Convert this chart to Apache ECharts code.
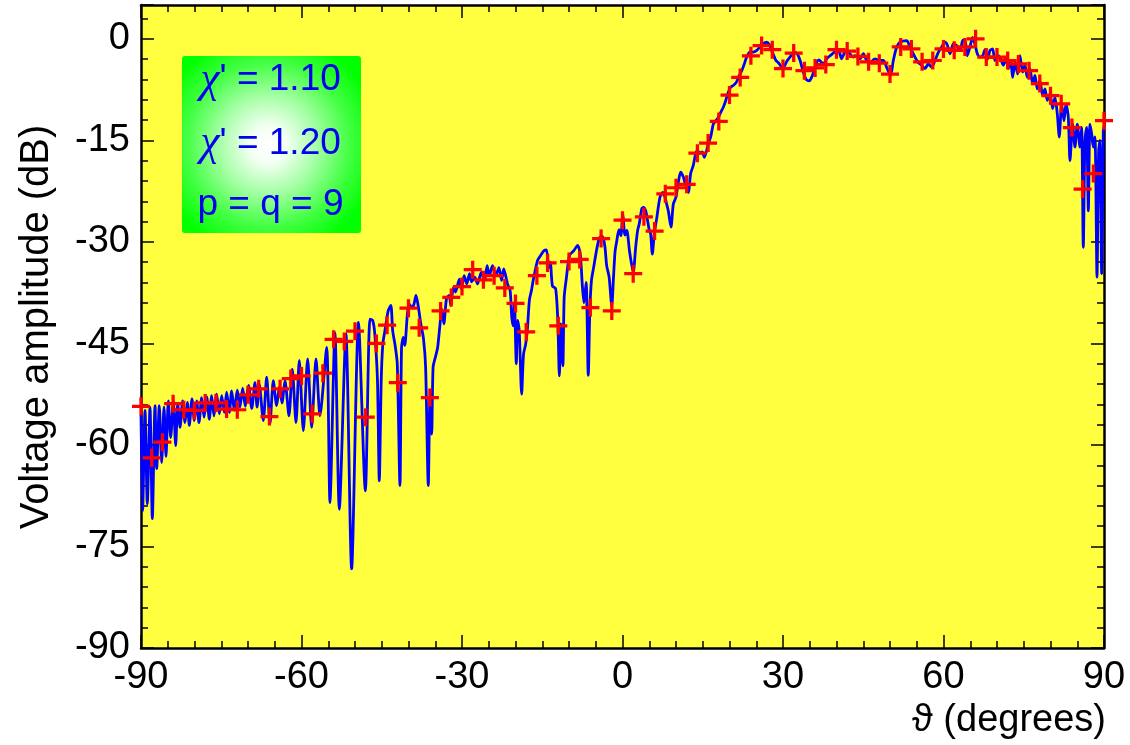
<!DOCTYPE html>
<html>
<head>
<meta charset="utf-8">
<title>Voltage amplitude pattern</title>
<script src="https://cdn.jsdelivr.net/npm/echarts@6/dist/echarts.min.js"></script>
<style>
  html, body { margin: 0; padding: 0; background: #ffffff; }
  #chart { width: 1130px; height: 745px; }
</style>
</head>
<body>
<div id="chart"></div>
<script>
// Axis layout
const thetaTicks = [-90, -60, -30, 0, 30, 60, 90];
const dbTicks = [-90, -75, -60, -45, -30, -15, 0];
const dbTop = 5;

// Red markers: amplitude sampled every 2 degrees
const markerTheta = [
  -90, -88, -86, -84, -82, -80, -78, -76, -74, -72,
  -70, -68, -66, -64, -62, -60, -58, -56, -54, -52,
  -50, -48, -46, -44, -42, -40, -38, -36, -34, -32,
  -30, -28, -26, -24, -22, -20, -18, -16, -14, -12,
  -10, -8, -6, -4, -2, 0, 2, 4, 6, 8,
  10, 12, 14, 16, 18, 20, 22, 24, 26, 28,
  30, 32, 34, 36, 38, 40, 42, 44, 46, 48,
  50, 52, 54, 56, 58, 60, 62, 64, 66, 68,
  70, 72, 74, 76, 78, 80, 82, 84, 86, 88,
  90
];
const markerDb = [
  -54.3, -61.9, -59.6, -53.9, -54.8, -54.9, -53.8, -53.8, -54.7, -54.8,
  -52.6, -51.7, -55.8, -51.7, -50.2, -49.8, -55.4, -49.4, -44.4, -44.7,
  -43.2, -55.9, -45.0, -42.3, -50.8, -39.8, -42.7, -53.0, -40.2, -38.2,
  -36.6, -34.1, -35.6, -35.0, -36.8, -39.1, -43.3, -35.0, -33.1, -42.4,
  -32.9, -32.6, -39.7, -29.5, -40.2, -26.8, -34.7, -26.3, -28.4, -22.9,
  -22.0, -21.5, -16.9, -15.4, -12.2, -8.3, -5.7, -2.5, -1.0, -1.6,
  -4.4, -2.1, -4.7, -4.3, -3.8, -1.6, -1.8, -2.6, -3.4, -3.6,
  -5.2, -1.2, -1.5, -3.4, -3.2, -1.5, -1.7, -1.2, 0.0, -2.7,
  -2.7, -3.2, -3.7, -4.7, -6.6, -8.4, -9.6, -13.1, -22.2, -19.9,
  -12.1
];

// Blue trace, [theta (deg), amplitude (dB)], split by angular region
const traceEndfire = [
  [-90.0, -55.5], [-89.70, -69.7], [-89.25, -54.9], [-88.82, -68.7], [-88.32, -54.4],
  [-87.88, -70.9], [-87.38, -54.2], [-87.07, -63.5], [-86.58, -54.2], [-86.14, -62.6],
  [-85.70, -54.4], [-85.33, -61.7], [-84.89, -53.5], [-84.45, -58.9], [-83.96, -53.5],
  [-83.52, -60.1], [-83.14, -53.9], [-82.71, -57.4], [-82.21, -53.5], [-81.78, -56.7],
  [-81.34, -53.7], [-80.97, -57.1], [-80.47, -53.2], [-80.03, -56.4], [-79.59, -53.5],
  [-79.16, -56.7], [-78.66, -53.0], [-78.22, -55.9], [-77.72, -52.9], [-77.23, -56.2],
  [-76.79, -52.7], [-76.36, -55.7], [-75.86, -52.5], [-75.36, -55.4], [-74.92, -52.7],
  [-74.43, -55.2], [-73.99, -52.2], [-73.49, -55.2], [-73.05, -52.0], [-72.56, -54.9],
  [-72.00, -51.9], [-71.50, -54.4]
];
const traceSidelobes = [
  [-71.0, -51.6], [-70.5, -54.3], [-69.9, -51.2], [-69.3, -54.6], [-68.7, -50.8],
  [-68.3, -54.4], [-67.9, -51.0], [-67.14, -56.4], [-66.51, -50.0], [-65.89, -56.9],
  [-65.27, -50.5], [-64.65, -54.2], [-64.1, -51.3], [-63.65, -53.8], [-63.09, -50.5],
  [-62.34, -55.7], [-61.72, -48.8], [-61.03, -56.7], [-60.41, -47.5], [-59.66, -57.9],
  [-58.85, -47.3], [-58.10, -57.4], [-57.29, -47.3], [-56.55, -55.7], [-55.30, -45.6],
  [-54.68, -68.5], [-53.75, -43.4], [-52.93, -69.5], [-51.70, -43.6], [-50.63, -78.3],
  [-49.35, -41.9], [-48.07, -66.8]
];
const traceShoulder = [
  [-47.2, -41.4], [-46.7, -41.6], [-46.3, -43.6], [-45.8, -50.5], [-45.46, -65.3],
  [-45.1, -50.5], [-44.8, -45.1], [-44.4, -43.1], [-43.8, -40.2], [-43.3, -39.4],
  [-42.96, -43.1], [-42.5, -45.3], [-42.1, -48.0], [-41.6, -66.0], [-41.3, -45.6],
  [-40.97, -44.1], [-40.7, -45.3], [-40.2, -40.6], [-39.85, -39.2], [-39.4, -39.7],
  [-38.98, -39.2], [-38.6, -37.9], [-38.2, -39.4], [-37.7, -42.1], [-37.2, -44.3],
  [-36.8, -48.5], [-36.3, -66.0], [-35.99, -53.0], [-35.67, -58.4], [-35.4, -48.5],
  [-34.9, -46.8], [-34.55, -45.6], [-34.1, -42.1], [-33.8, -39.9], [-33.4, -42.1],
  [-32.9, -38.4], [-32.4, -37.9], [-32.1, -39.4], [-31.6, -36.7], [-31.2, -37.4],
  [-30.5, -35.5], [-30.1, -36.9], [-29.6, -35.0], [-29.1, -36.2], [-28.6, -34.7],
  [-28.2, -35.9], [-27.6, -35.2], [-27.1, -36.2], [-26.4, -34.5], [-25.8, -35.7],
  [-25.3, -33.5], [-24.9, -35.0], [-24.3, -33.5], [-23.7, -35.0], [-23.1, -33.8],
  [-22.6, -35.7], [-22.2, -34.0], [-21.5, -36.2], [-21.0, -37.2], [-20.7, -41.1],
  [-20.4, -42.4], [-20.2, -39.0], [-19.85, -48.0], [-19.6, -41.6], [-19.3, -43.1],
  [-18.85, -52.5], [-18.5, -46.6], [-18.1, -45.1], [-17.8, -43.1], [-17.4, -38.6],
  [-17.0, -37.1], [-16.7, -35.7], [-15.9, -32.8], [-15.3, -32.0], [-14.7, -31.3],
  [-14.2, -31.2], [-13.8, -33.8], [-13.5, -33.0], [-13.1, -36.5], [-12.5, -36.9],
  [-12.1, -41.5], [-11.8, -49.8], [-11.5, -42.1], [-11.15, -48.3], [-10.9, -38.2],
  [-10.5, -35.4], [-9.9, -32.0], [-9.1, -31.3], [-8.4, -30.5], [-7.9, -31.8],
  [-7.5, -36.5], [-7.2, -39.0], [-6.8, -36.0], [-6.4, -49.7], [-6.1, -40.0],
  [-5.8, -35.7], [-5.4, -33.8], [-4.8, -31.0], [-4.3, -29.4], [-3.75, -29.2],
  [-3.3, -30.6], [-2.96, -33.5], [-2.5, -35.2], [-2.0, -39.5], [-1.7, -35.5],
  [-1.4, -31.5], [-1.1, -30.0], [-0.66, -28.2], [-0.3, -29.1]
];
const traceMainBeam = [
  [0.05, -25.8], [0.45, -29.0], [0.8, -28.3], [1.3, -31.3], [1.7, -33.3],
  [2.02, -34.5], [2.46, -30.8], [2.83, -28.3], [3.14, -27.3], [3.6, -25.1],
  [3.9, -24.9], [4.33, -25.4], [4.70, -26.9], [5.01, -28.3], [5.26, -28.8],
  [5.57, -31.8], [5.94, -28.8], [6.38, -26.6], [7.00, -23.4], [7.50, -22.7],
  [7.94, -23.4], [8.25, -24.4], [8.56, -25.4], [9.06, -27.8], [9.50, -24.4],
  [9.99, -23.4], [10.43, -21.2], [10.87, -19.7], [11.37, -20.4], [11.80, -21.6],
  [12.30, -22.7], [12.74, -19.9], [13.23, -18.7], [13.67, -17.0], [14.04, -16.5],
  [14.48, -16.9], [14.9, -16.7], [15.29, -17.5], [16.04, -15.5], [16.54, -14.3],
  [16.97, -12.6], [17.45, -12.1], [17.91, -11.6], [18.4, -10.8], [18.84, -10.1],
  [19.3, -9.1], [19.78, -7.9], [20.25, -7.1], [20.71, -6.9], [21.3, -6.4],
  [21.83, -5.4], [22.3, -4.7], [22.77, -3.7], [23.20, -2.7], [23.8, -1.96],
  [24.45, -1.96], [25.1, -1.7], [25.70, -1.2], [26.3, -0.7], [26.94, -0.5],
  [27.4, -0.8], [27.88, -1.7], [28.3, -2.5], [28.69, -3.2], [29.1, -3.5],
  [29.5, -3.9], [29.87, -4.4], [30.35, -3.9], [30.80, -3.2], [31.3, -2.7],
  [31.80, -2.2], [32.2, -2.0], [32.67, -2.2], [33.2, -3.2], [33.61, -4.4],
  [34.0, -5.4], [34.4, -6.06], [34.91, -6.2], [35.35, -5.7], [35.8, -4.7],
  [36.29, -3.5], [36.7, -3.1], [37.22, -3.5], [37.6, -3.7], [38.15, -2.95],
  [38.8, -2.5], [39.4, -2.1], [40.02, -1.6], [40.5, -1.9], [40.96, -2.95],
  [41.4, -2.2], [41.89, -1.7], [42.5, -2.2]
];
const traceFarEdge = [
  [43.14, -2.7], [43.45, -2.5], [44.39, -2.97], [45.01, -2.2], [45.64, -3.2],
  [46.26, -3.5], [47.19, -2.97], [48.13, -3.2], [48.75, -3.2], [49.37, -4.2],
  [50.12, -5.4], [50.62, -3.2], [51.24, -1.24], [51.87, -0.5], [53.11, -0.25],
  [53.73, -1.2], [54.67, -2.7], [55.29, -3.5], [55.91, -3.9], [56.54, -4.4],
  [57.16, -3.7], [57.78, -4.2], [58.41, -3.2], [59.03, -2.0], [59.65, -1.2],
  [60.28, -0.5], [60.71, -0.9], [61.21, -2.2], [61.83, -0.75], [62.46, -1.0],
  [63.08, -1.7], [63.58, -0.25], [64.01, -0.15], [64.45, -2.5], [64.95, -1.2],
  [65.45, 0.2], [65.88, -0.8], [66.32, -2.2], [66.82, -2.7], [67.32, -2.5],
  [67.75, -1.6], [68.25, -2.97], [68.69, -1.7], [69.18, -1.5], [69.62, -3.2],
  [70.24, -2.5], [70.68, -2.97], [71.18, -3.9], [71.61, -2.8], [72.11, -4.4],
  [72.55, -3.2], [72.92, -5.7], [73.36, -3.5], [73.86, -5.2], [74.29, -2.5],
  [74.79, -4.9], [75.23, -3.9], [75.66, -5.7], [76.16, -4.4], [76.66, -6.65],
  [77.10, -5.4], [77.53, -7.4], [78.03, -6.2], [78.53, -8.4], [78.97, -7.4],
  [79.40, -9.1], [79.90, -8.1], [80.40, -10.3], [80.83, -8.6], [81.27, -11.1],
  [81.64, -14.5], [82.08, -9.6], [82.52, -12.1], [82.89, -9.6], [83.33, -11.6],
  [83.64, -18.0], [84.14, -12.6], [84.57, -16.0], [85.01, -12.6], [85.51, -16.0],
  [85.82, -13.1], [86.13, -30.8], [86.44, -15.0], [86.75, -13.1], [87.07, -25.4],
  [87.38, -12.6], [87.69, -14.0], [88.00, -16.0], [88.31, -14.5], [88.69, -35.2],
  [89.00, -16.5], [89.25, -15.0], [89.56, -34.7], [89.87, -13.6], [90.0, -13.0]
];

// Annotation lines in the box
const annotations = [
  { lead: 'χ', rest: "' = 1.10" },
  { lead: 'χ', rest: "' = 1.20" },
  { lead: '', rest: 'p = q = 9' }
];

const trace = [].concat(traceEndfire, traceSidelobes, traceShoulder, traceMainBeam, traceFarEdge);
const markers = markerTheta.map((t, i) => [t, markerDb[i]]);

const FONT = 'Liberation Sans, Arial, sans-serif';
const INK = '#000000';

function thetaAxis(position, withLabels) {
  return {
    type: 'value',
    position: position,
    min: thetaTicks[0],
    max: thetaTicks[thetaTicks.length - 1],
    interval: thetaTicks[1] - thetaTicks[0],
    axisLine: { show: true, onZero: false, lineStyle: { color: INK, width: 2.5 } },
    axisTick: { show: true, inside: true, length: 13, lineStyle: { color: INK, width: 1.5 } },
    minorTick: { show: true, splitNumber: 6, length: 7, lineStyle: { color: INK, width: 1.5 } },
    splitLine: { show: false },
    minorSplitLine: { show: false },
    axisLabel: {
      show: withLabels, color: INK, fontSize: 38, fontFamily: FONT, margin: 11,
      formatter: v => String(v)
    }
  };
}

function dbAxis(position, withLabels) {
  return {
    type: 'value',
    position: position,
    min: dbTicks[0],
    max: dbTop,
    interval: dbTicks[1] - dbTicks[0],
    axisLine: { show: true, onZero: false, lineStyle: { color: INK, width: 2.5 } },
    axisTick: { show: true, inside: true, length: 13, lineStyle: { color: INK, width: 1.5 } },
    minorTick: { show: true, splitNumber: 5, length: 7, lineStyle: { color: INK, width: 1.5 } },
    splitLine: { show: false },
    minorSplitLine: { show: false },
    axisLabel: {
      show: withLabels, color: INK, fontSize: 38, fontFamily: FONT, margin: 11,
      formatter: v => (dbTicks.indexOf(v) >= 0 ? String(v) : '')
    }
  };
}

const chart = echarts.init(document.getElementById('chart'), null, { renderer: 'canvas' });

const boxX = 182, boxY = 56, boxW = 179, boxH = 177;
const lineY = [80, 143.5, 205];

const graphics = [
  {
    type: 'rect', z: 20,
    shape: { x: boxX, y: boxY, width: boxW, height: boxH, r: 3 },
    style: {
      fill: {
        type: 'radial', x: 0.48, y: 0.5, r: 0.72,
        colorStops: [
          { offset: 0.0, color: '#ffffff' },
          { offset: 0.14, color: '#f4fff4' },
          { offset: 0.38, color: '#a6ffa6' },
          { offset: 0.64, color: '#44ff44' },
          { offset: 0.88, color: '#00ff00' },
          { offset: 1.0, color: '#00ff00' }
        ]
      }
    }
  }
];
annotations.forEach((a, i) => {
  graphics.push({
    type: 'text', z: 21,
    x: boxX + boxW / 2 - 1, y: lineY[i],
    style: {
      text: (a.lead ? '{g|' + a.lead + '}' : '') + '{t|' + a.rest + '}',
      align: 'center', verticalAlign: 'middle',
      rich: {
        g: { fontFamily: 'Liberation Serif, serif', fontStyle: 'italic', fontSize: 44, fill: '#0000ee' },
        t: { fontFamily: FONT, fontSize: 37, fill: '#0000ee' }
      }
    }
  });
});
graphics.push({
  type: 'text', z: 21,
  x: 37, y: 327, rotation: Math.PI / 2,
  style: {
    text: 'Voltage amplitude (dB)', fontFamily: FONT, fontSize: 40, fill: INK,
    align: 'center', verticalAlign: 'middle'
  }
});
graphics.push({
  type: 'text', z: 21,
  x: 1106, y: 721,
  style: {
    text: 'ϑ (degrees)', fontFamily: FONT, fontSize: 38, fill: INK,
    align: 'right', verticalAlign: 'middle'
  }
});

chart.setOption({
  animation: false,
  backgroundColor: '#ffffff',
  grid: {
    left: 141, right: 26, top: 5, bottom: 97,
    show: true, backgroundColor: '#ffff40', borderWidth: 0,
    containLabel: false
  },
  xAxis: [thetaAxis('bottom', true), thetaAxis('top', false)],
  yAxis: [dbAxis('left', true), dbAxis('right', false)],
  series: [
    {
      type: 'line', name: 'trace',
      xAxisIndex: 0, yAxisIndex: 0,
      data: trace,
      showSymbol: false, symbol: 'none',
      smooth: 0.25,
      lineStyle: { color: '#0000ff', width: 2.8 },
      clip: true, z: 3
    },
    {
      type: 'scatter', name: 'markers',
      xAxisIndex: 0, yAxisIndex: 0,
      data: markers,
      symbol: 'path://M-1,-0.18H1V0.18H-1Z M-0.18,-1H0.18V1H-0.18Z',
      symbolSize: [18, 18],
      itemStyle: { color: '#ff0000', opacity: 1 },
      clip: false, z: 4
    }
  ],
  graphic: graphics
});
</script>
</body>
</html>
